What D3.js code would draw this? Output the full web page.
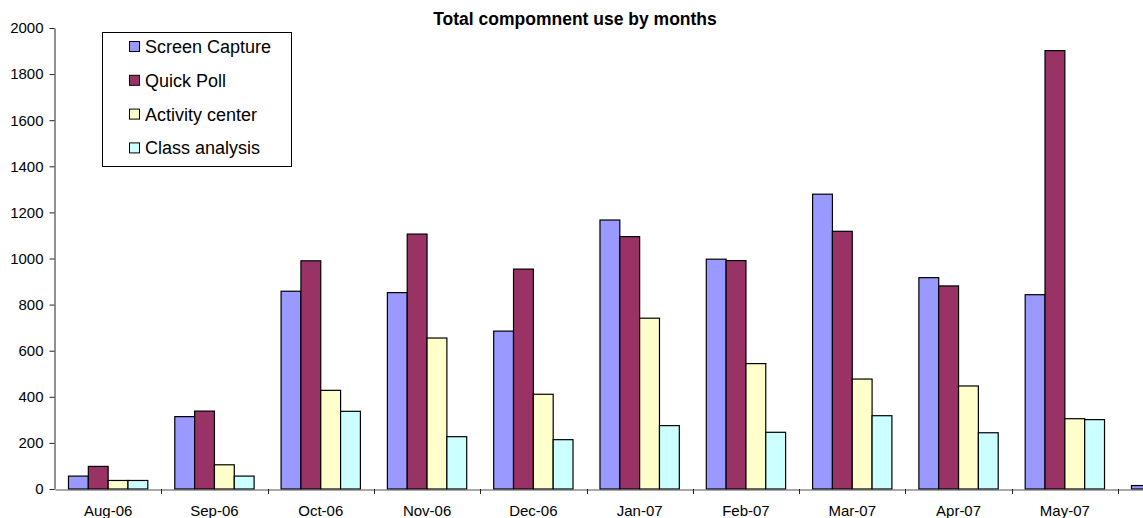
<!DOCTYPE html>
<html>
<head>
<meta charset="utf-8">
<script src="https://cdn.jsdelivr.net/npm/d3@7"></script>
<style>
	body { margin: 0; background: #fff; }
	svg { display: block; font-family: "Liberation Sans", Arial, sans-serif; }
</style>
</head>
<body>
<svg></svg>
<script>
// Data
const months = ["Aug-06", "Sep-06", "Oct-06", "Nov-06", "Dec-06", "Jan-07", "Feb-07", "Mar-07", "Apr-07", "May-07", "Jun-07"];
const seriesNames = ["Screen Capture", "Quick Poll", "Activity center", "Class analysis"];
const seriesColors = ["#9999FF", "#993366", "#FFFFCC", "#CCFFFF"];
const screenCapture = [56, 314, 858, 852, 685, 1167, 997, 1279, 917, 843, 15];
const quickPoll = [98, 338, 990, 1106, 954, 1095, 991, 1118, 881, 1902, 0];
const activityCenter = [37, 105, 428, 655, 411, 741, 544, 477, 447, 305, 0];
const classAnalysis = [37, 56, 337, 227, 214, 275, 246, 318, 244, 301, 0];
const yTicks = [0, 200, 400, 600, 800, 1000, 1200, 1400, 1600, 1800, 2000];

const svgWidth = 1143;
const svgHeight = 518;
const plot = {left: 55, top: 28, bottom: 489, step: 106.3};

const seriesValues = [screenCapture, quickPoll, activityCenter, classAnalysis];

const chart = d3.select('svg')
	.attr('width', svgWidth)
	.attr('height', svgHeight);

// last month runs past the right edge, as in the original
const scaleX = d3.scaleBand()
	.domain(months)
	.range([plot.left, plot.left + plot.step * months.length]);

const scaleSeries = d3.scaleBand()
	.domain(seriesNames)
	.range([0, scaleX.bandwidth()])
	.paddingOuter(0.68);

const scaleY = d3.scaleLinear()
	.domain([0, 2000])
	.range([plot.bottom, plot.top]);

// Bars
const groups = chart.append("g")
	.selectAll("g")
	.data(months)
	.join("g")
	.attr("transform", d => `translate(${scaleX(d)},0)`);

groups.selectAll("rect")
	.data((m, i) => seriesNames.map((s, j) => ({series: s, color: seriesColors[j], value: seriesValues[j][i]})))
	.join("rect")
	.filter(d => d.value > 0)
	.attr("x", d => scaleSeries(d.series))
	.attr("y", d => scaleY(d.value))
	.attr("width", scaleSeries.bandwidth())
	.attr("height", d => scaleY(0) - scaleY(d.value))
	.attr("fill", d => d.color)
	.attr("stroke", "#000")
	.attr("stroke-width", 1.2);

// Y axis
chart.append("g")
	.attr("transform", `translate(${plot.left - 0.5},0)`)
	.call(d3.axisLeft(scaleY).tickValues(yTicks).tickFormat(d3.format("d")).tickSize(5).tickPadding(6).tickSizeOuter(0))
	.call(g => g.selectAll("text").attr("font-size", 15).attr("fill", "#000").attr("font-family", null))
	.call(g => g.selectAll("line, .domain").attr("stroke", "#222"));

// X axis: labels centred, ticks between months (the cut-off month gets no label)
chart.append("g")
	.attr("transform", `translate(0,${plot.bottom + 0.5})`)
	.call(d3.axisBottom(scaleX).tickValues(months.filter(m => scaleX(m) + scaleX.bandwidth() / 2 < svgWidth)).tickSize(0).tickPadding(16))
	.call(g => g.selectAll("text").attr("font-size", 15).attr("fill", "#000").attr("font-family", null))
	.call(g => g.select(".domain").attr("stroke", "#555"));

chart.append("g")
	.selectAll("line")
	.data(months.slice(1))
	.join("line")
	.attr("x1", d => Math.round(scaleX(d)) + 0.5)
	.attr("x2", d => Math.round(scaleX(d)) + 0.5)
	.attr("y1", plot.bottom)
	.attr("y2", plot.bottom + 5)
	.attr("stroke", "#222");

// Title
chart.append("text")
	.attr("x", 575)
	.attr("y", 25)
	.attr("text-anchor", "middle")
	.attr("font-size", 17.5)
	.attr("font-weight", "bold")
	.text("Total compomnent use by months");

// Legend
const legend = chart.append("g")
	.attr("transform", "translate(102,32)");

legend.append("rect")
	.attr("x", 0.5)
	.attr("y", 0.5)
	.attr("width", 189)
	.attr("height", 134)
	.attr("fill", "#fff")
	.attr("stroke", "#000");

const items = legend.selectAll("g.item")
	.data(seriesNames)
	.join("g")
	.attr("class", "item")
	.attr("transform", (d, i) => `translate(27,${9 + i * 33.8})`);

items.append("rect")
	.attr("x", 0.5)
	.attr("y", 0.5)
	.attr("width", 10)
	.attr("height", 10)
	.attr("fill", (d, i) => seriesColors[i])
	.attr("stroke", "#000");

items.append("text")
	.attr("x", 16)
	.attr("y", 12)
	.attr("font-size", 18)
	.text(d => d);
</script>
</body>
</html>
